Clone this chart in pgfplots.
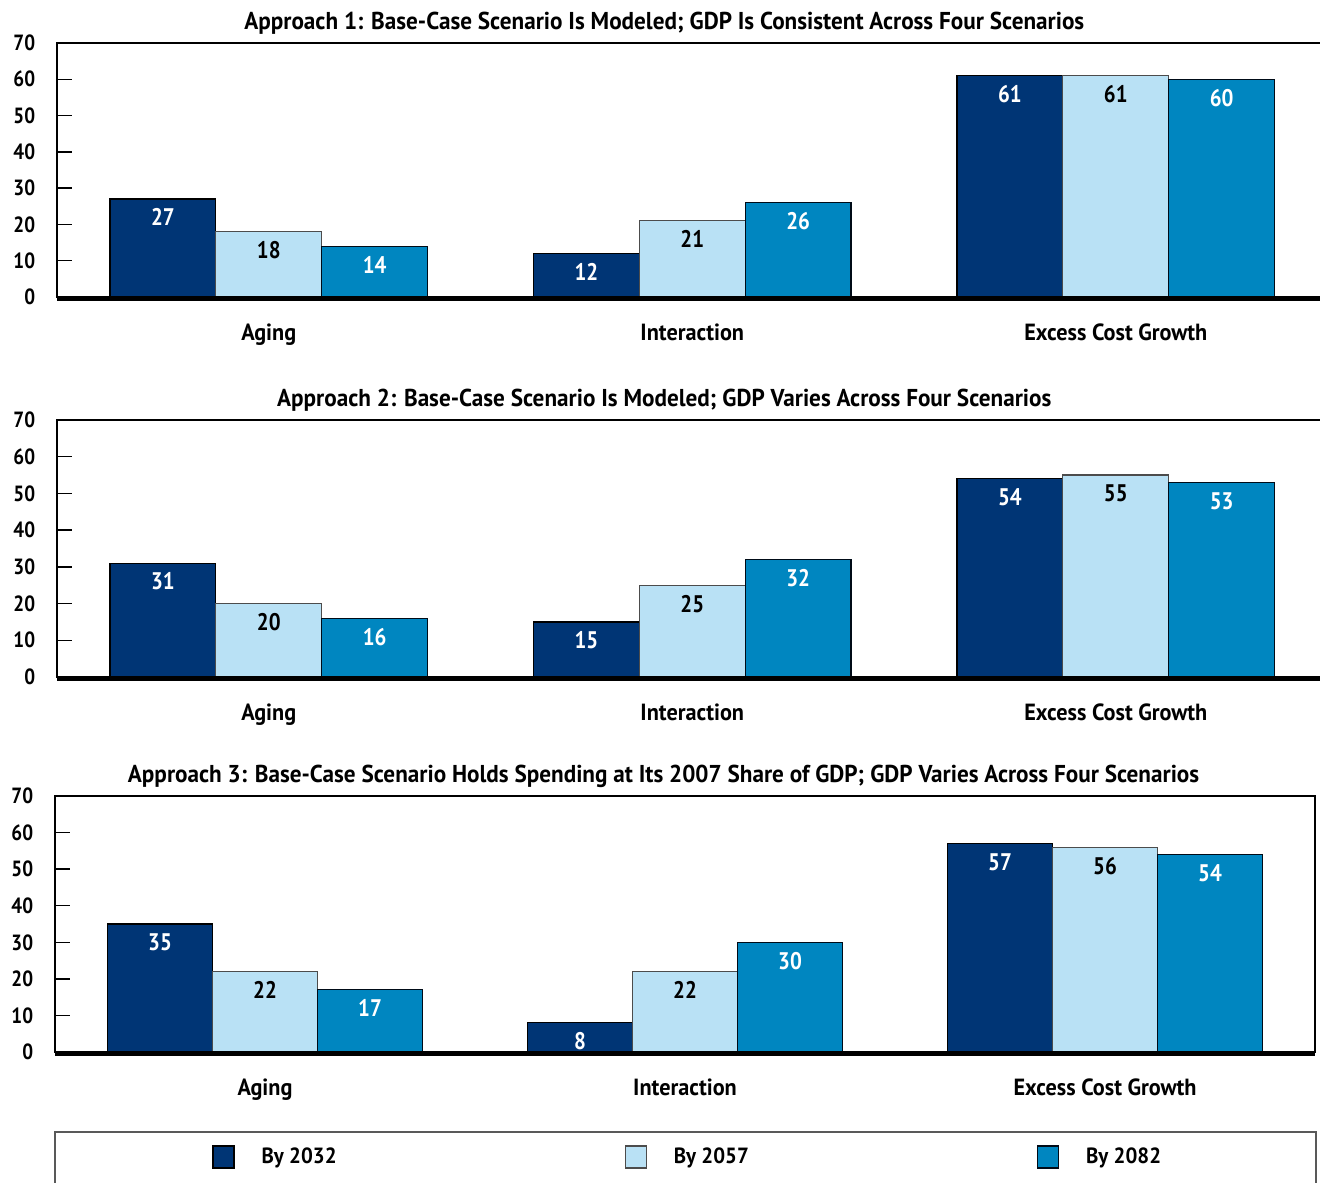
\documentclass[border=0pt]{standalone}
\usepackage{fontspec}
\setmainfont{PT Sans}[FakeStretch=0.95]
\newfontfamily\narrowf{PT Sans}[FakeStretch=0.87]
\usepackage{pgfplots}
\pgfplotsset{compat=1.18}
\definecolor{cdark}{RGB}{0,53,117}
\definecolor{clight}{RGB}{185,225,245}
\definecolor{cmed}{RGB}{0,134,192}
\newcommand\nf{\narrowf\fontsize{11}{13}\selectfont\bfseries}
\newcommand\barf{\narrowf\fontsize{12}{14}\selectfont\bfseries}
\newcommand\cf{\fontsize{11.7}{13}\selectfont\bfseries}
\newcommand\lf{\fontsize{11}{13}\selectfont\bfseries}
\newcommand\tf{\fontsize{12.2}{14}\selectfont\bfseries}
\pgfplotsset{
  panel/.style={
    scale only axis,
    xmin=-0.5, xmax=2.5, ymin=0, ymax=70,
    ytick={0,10,...,70}, xtick={0,1,2},
    xticklabels={Aging,Interaction,Excess Cost Growth},
    ytick pos=left, tick align=inside, major tick length=7.5pt,
    xtick style={draw=none},
    ytick style={line width=0.7pt, black},
    axis line style={line width=1.2pt, black},
    yticklabel style={font=\nf, xshift=-7.4pt},
    /pgf/number format/assume math mode=true,
    xticklabel style={font=\cf, anchor=base, yshift=-14.3pt},
    title style={font=\tf, anchor=base, yshift=0.8pt},
    ybar, bar width=0.25,
    nodes near coords,
    every node near coord/.append style={anchor=center, yshift=-9.2pt, font=\barf},
    legend image code/.code={\draw[##1, line width=0.6pt] (0pt,-5.5pt) rectangle (10.5pt,5.5pt);},
    after end axis/.code={\draw[line width=2.4pt] ([yshift=-0.6pt]rel axis cs:0,0) -- ([yshift=-0.6pt]rel axis cs:1,0);},
  },
  sA/.style={fill=cdark, draw=black, line width=0.6pt, bar shift=-0.25, every node near coord/.append style={text=white}},
  sB/.style={fill=clight, draw=black!70, line width=0.6pt, bar shift=0, every node near coord/.append style={text=black}},
  sC/.style={fill=cmed, draw=black!80!cdark, line width=0.6pt, bar shift=0.25, every node near coord/.append style={text=white}},
}
\begin{document}
\begin{tikzpicture}
\path[use as bounding box] (0,0) rectangle (660pt,-591pt);
% Panel 1
\begin{axis}[panel, at={(28.5pt,-148.5pt)}, anchor=south west, width=635.25pt, height=127pt,
  title={Approach 1: Base-Case Scenario Is Modeled; GDP Is Consistent Across Four Scenarios},
  title style={at={(0.478,1)}}]
\addplot[sA] coordinates {(0,27) (1,12) (2,61)};
\addplot[sB] coordinates {(0,18) (1,21) (2,61)};
\addplot[sC] coordinates {(0,14) (1,26) (2,60)};
\end{axis}
% Panel 2
\begin{axis}[panel, at={(28.5pt,-338.5pt)}, anchor=south west, width=635.25pt, height=128.5pt,
  title={Approach 2: Base-Case Scenario Is Modeled; GDP Varies Across Four Scenarios},
  title style={at={(0.478,1)}}]
\addplot[sA] coordinates {(0,31) (1,15) (2,54)};
\addplot[sB] coordinates {(0,20) (1,25) (2,55)};
\addplot[sC] coordinates {(0,16) (1,32) (2,53)};
\end{axis}
% Panel 3
\begin{axis}[panel, at={(27.5pt,-526pt)}, anchor=south west, width=630pt, height=128pt,
  title={Approach 3: Base-Case Scenario Holds Spending at Its 2007 Share of GDP; GDP Varies Across Four Scenarios},
  title style={at={(0.483,1)}},
  legend columns=3,
  legend style={at={(0.1246,-0.41)}, anchor=west, draw=none, fill=none, inner sep=0pt,
    font=\lf, nodes={inner sep=0pt},
    /tikz/every odd column/.append style={column sep=13.5pt},
    /tikz/every even column/.append style={column sep=144pt}}]
\addplot[sA] coordinates {(0,35) (1,8) (2,57)};
\addplot[sB] coordinates {(0,22) (1,22) (2,56)};
\addplot[sC] coordinates {(0,17) (1,30) (2,54)};
\legend{By 2032, By 2057, By 2082}
\end{axis}
\draw[black!65, line width=0.7pt] (27.5pt,-600pt) -- (27.5pt,-566pt) -- (658pt,-566pt) -- (658pt,-600pt);
\end{tikzpicture}
\end{document}
